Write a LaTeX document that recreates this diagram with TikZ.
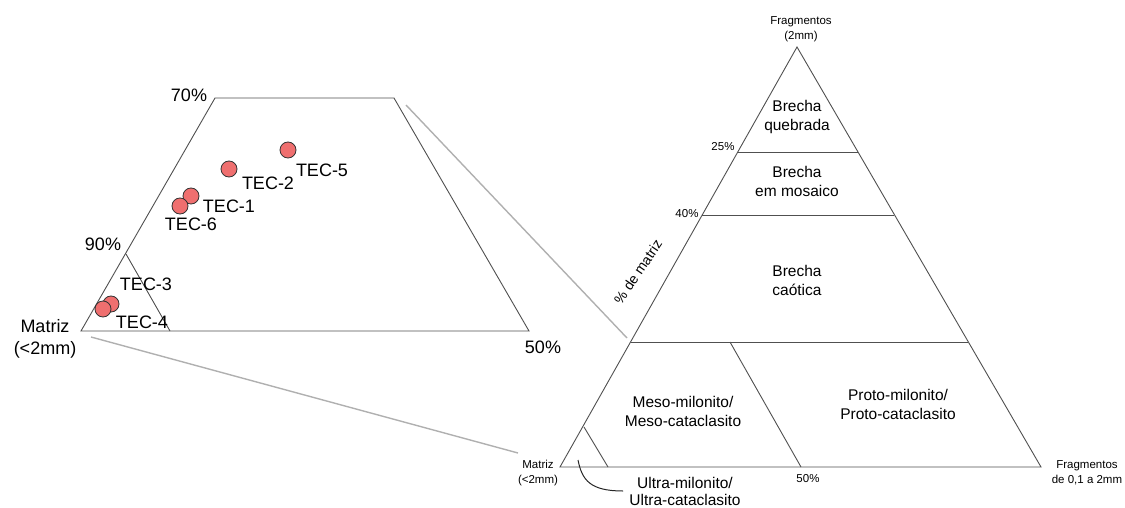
\documentclass[tikz,border=0pt]{standalone}
\usepackage{fontspec}
\setmainfont{Liberation Sans}
\definecolor{edge}{HTML}{505050}
\definecolor{conn}{HTML}{B0B0B0}
\definecolor{dotfill}{HTML}{EF6F6F}
\begin{document}
\begin{tikzpicture}[x=1pt,y=-1pt,
  frame/.style={draw=edge,line width=0.9pt},
  connector/.style={draw=conn,line width=1.4pt},
  dot/.style={circle,draw=black!80,fill=dotfill,line width=0.8pt,minimum size=16pt,inner sep=0pt},
  biglbl/.style={font=\fontsize{18}{20}\selectfont,inner sep=0pt},
  midlbl/.style={font=\fontsize{15.5}{19}\selectfont,align=center,inner sep=0pt},
  smalllbl/.style={font=\fontsize{11.5}{15}\selectfont,align=center,inner sep=0pt}]
\useasboundingbox (0,0) rectangle (1125,508);
% ---------- left trapezoid ----------
\coordinate (TL) at (215,98);
\coordinate (TR) at (394,98);
\coordinate (BR) at (529,331);
\coordinate (BL) at (81,331);
\coordinate (N1) at (126,254);
\coordinate (N2) at (170,331);
\draw[frame] (TL) -- (TR) -- (BR) -- (BL) -- cycle;
\draw[frame] (N1) -- (N2);
\node[biglbl] (l70) at (189,95) {70\%};
\node[biglbl] (l90) at (103,244) {90\%};
\node[biglbl] (l50) at (543,347) {50\%};
\node[biglbl,align=center] (lmat) at (45,339) {Matriz\\[2pt](<2mm)};
\node[dot] (t5) at (288,150) {};
\node[dot] (t2) at (229,169) {};
\node[dot] (t1) at (191,196) {};
\node[dot] (t6) at (180,206) {};
\node[dot] (t3) at (111,304) {};
\node[dot] (t4) at (103,309) {};
\node[biglbl] (lt5) at (322,170) {TEC-5};
\node[biglbl] (lt2) at (268,183) {TEC-2};
\node[biglbl] (lt1) at (229,206) {TEC-1};
\node[biglbl] (lt6) at (191,224) {TEC-6};
\node[biglbl] (lt3) at (146,284) {TEC-3};
\node[biglbl] (lt4) at (142,322) {TEC-4};
% ---------- connectors ----------
\coordinate (ca1) at (406,105);
\coordinate (ca2) at (627,338);
\coordinate (cb1) at (91,337);
\coordinate (cb2) at (518,453);
\draw[connector] (ca1) -- (ca2);
\draw[connector] (cb1) -- (cb2);
% ---------- right triangle ----------
\coordinate (A) at (797,47);
\coordinate (B) at (560,467);
\coordinate (C) at (1041,467);
\draw[frame] (A) -- (B) -- (C) -- cycle;
\draw[frame] (738,152) -- (858,152);
\draw[frame] (702,215) -- (894,215);
\draw[frame] (631,342) -- (968,342);
\draw[frame] (730,342) -- (801,467);
\draw[frame] (584,427) -- (608,467);
\node[smalllbl] (fr) at (801,29) {Fragmentos\\(2mm)};
\node[smalllbl] (p25) at (723,147) {25\%};
\node[smalllbl] (p40) at (687,214) {40\%};
\node[smalllbl] (p50) at (808,479) {50\%};
\node[smalllbl] (mr) at (538,473) {Matriz\\(<2mm)};
\node[smalllbl] (fr2) at (1087,473) {Fragmentos\\de 0,1 a 2mm};
\node[midlbl] (bq) at (797,117) {Brecha\\quebrada};
\node[midlbl] (bm) at (797,181) {Brecha\\em mosaico};
\node[midlbl] (bc) at (797,280) {Brecha\\caótica};
\node[midlbl] (mm) at (683,411) {Meso-milonito/\\Meso-cataclasito};
\node[midlbl] (pm) at (898,404) {Proto-milonito/\\Proto-cataclasito};
\node[font=\fontsize{15.5}{17.5}\selectfont,align=center,inner sep=0pt] (um) at (685,491.5) {Ultra-milonito/\\Ultra-cataclasito};
\node[font=\fontsize{14}{16}\selectfont,rotate=56,inner sep=0pt] (dm) at (638,272) {\% de matriz};
\coordinate (uc) at (578,460);
\draw[black!85,line width=1pt] (uc) .. controls (582,480) and (590,491) .. (623,491);
\end{tikzpicture}
\end{document}
